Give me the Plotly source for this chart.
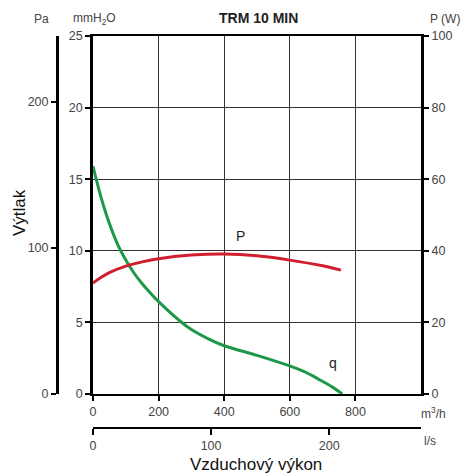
import plotly.graph_objects as go

# Data
q_flow = [0, 25, 50, 75, 100, 125, 150, 175, 200, 265, 300, 350, 400, 500, 600, 646, 692, 730, 760]
q_press = [15.9, 13.7, 11.9, 10.45, 9.35, 8.45, 7.7, 7.05, 6.45, 5.1, 4.5, 3.87, 3.37, 2.7, 1.96,
           1.54, 0.98, 0.48, 0.0]
p_flow = [0, 25, 50, 100, 150, 200, 300, 400, 500, 600, 700, 756]
p_power = [31.0, 32.6, 33.9, 35.7, 36.9, 37.8, 38.8, 39.1, 38.6, 37.4, 35.8, 34.6]
m3h_ticks = [0, 200, 400, 600, 800]
mm_ticks = [0, 5, 10, 15, 20, 25]
w_ticks = [0, 20, 40, 60, 80, 100]
pa_ticks = [0, 100, 200]
ls_ticks = [0, 100, 200]

W, H = 467, 475


def px(x):
    return x / W


def py(y):
    return 1 - y / H


FONT = "Liberation Sans, Arial, sans-serif"
TXT = "#444444"
tickfont = dict(family=FONT, size=12.5, color=TXT)

fig = go.Figure()
fig.add_trace(go.Scatter(x=p_flow, y=p_power, mode="lines", xaxis="x", yaxis="y2",
                         line=dict(color="#cf1f2e", width=3, shape="spline", smoothing=0.9),
                         showlegend=False, hoverinfo="skip"))
fig.add_trace(go.Scatter(x=q_flow, y=q_press, mode="lines", xaxis="x", yaxis="y",
                         line=dict(color="#1e9848", width=3, shape="spline", smoothing=0.9),
                         showlegend=False, hoverinfo="skip"))
# invisible trace so the secondary (l/s, Pa) axes get drawn
fig.add_trace(go.Scatter(x=[0], y=[0], mode="markers", xaxis="x2", yaxis="y3",
                         marker=dict(opacity=0), showlegend=False, hoverinfo="skip"))

xdom = [px(93), px(421)]
ydom = [py(394), py(36)]

fig.update_layout(
    template="none",
    width=W, height=H,
    margin=dict(l=0, r=0, t=0, b=0, pad=0, autoexpand=False),
    paper_bgcolor="white", plot_bgcolor="white",
    font=dict(family=FONT, color=TXT),
    showlegend=False,
    xaxis=dict(domain=xdom, anchor="y", range=[0, 1000], tickvals=m3h_ticks,
               ticks="outside", ticklen=5, tickwidth=2, tickcolor="black",
               showline=True, linecolor="black", linewidth=2, mirror=True,
               showgrid=True, gridcolor="#333", gridwidth=1.2, zeroline=False,
               tickfont=tickfont, automargin=False),
    xaxis2=dict(domain=xdom, overlaying="x", anchor="free", position=py(428),
                range=[0, 1000 / 3.6], tickvals=ls_ticks,
                ticks="outside", ticklen=6, tickwidth=2, tickcolor="black",
                showline=True, linecolor="black", linewidth=2,
                showgrid=False, zeroline=False, tickfont=tickfont, automargin=False),
    yaxis=dict(domain=ydom, anchor="x", range=[0, 25], tickvals=mm_ticks,
               ticks="outside", ticklen=5, tickwidth=2, tickcolor="black",
               showline=True, linecolor="black", linewidth=2.5,
               showgrid=True, gridcolor="#333", gridwidth=1.2, zeroline=False,
               tickfont=tickfont, automargin=False),
    yaxis2=dict(domain=ydom, overlaying="y", anchor="x", side="right",
                range=[0, 100], tickvals=w_ticks,
                ticks="outside", ticklen=5, tickwidth=2, tickcolor="black",
                showline=True, linecolor="black", linewidth=3,
                showgrid=False, zeroline=False, tickfont=tickfont, automargin=False),
    yaxis3=dict(domain=ydom, overlaying="y", anchor="free", position=px(57), side="left",
                range=[0, 25 * 9.80665], tickvals=pa_ticks,
                ticks="outside", ticklen=5, tickwidth=2, tickcolor="black",
                showline=True, linecolor="black", linewidth=3,
                showgrid=False, zeroline=False, tickfont=tickfont, automargin=False),
)

ann = []


def text(x, y, s, size=12, color=TXT, bold=False, angle=0, xanchor="center"):
    if bold:
        s = "<b>" + s + "</b>"
    ann.append(dict(x=px(x), y=py(y), xref="paper", yref="paper", text=s, showarrow=False,
                    xanchor=xanchor, yanchor="middle", textangle=angle,
                    font=dict(family=FONT, size=size, color=color)))


text(258, 18, "TRM 10 MIN", size=14, color="#222222", bold=True)
text(41, 19, "Pa")
text(94, 19, "mmH<sub>2</sub>O")
text(445, 19, "P (W)")
text(433, 413, "m<sup>3</sup>/h")
text(430, 441, "l/s")
text(256, 464, "Vzduchový výkon", size=17, color="#111111")
text(19, 213, "Výtlak", size=17, color="#111111", angle=-90)

# curve labels in data coordinates
ann.append(dict(x=451, y=11.0, xref="x", yref="y", text="P", showarrow=False,
                font=dict(family=FONT, size=14, color="#222222")))
ann.append(dict(x=732, y=2.2, xref="x", yref="y", text="q", showarrow=False,
                font=dict(family=FONT, size=14, color="#222222")))

fig.update_layout(annotations=ann)
fig.write_html("out.html", config={"displayModeBar": False},
               post_script="document.body.style.margin='0';document.body.style.overflow='hidden';")
